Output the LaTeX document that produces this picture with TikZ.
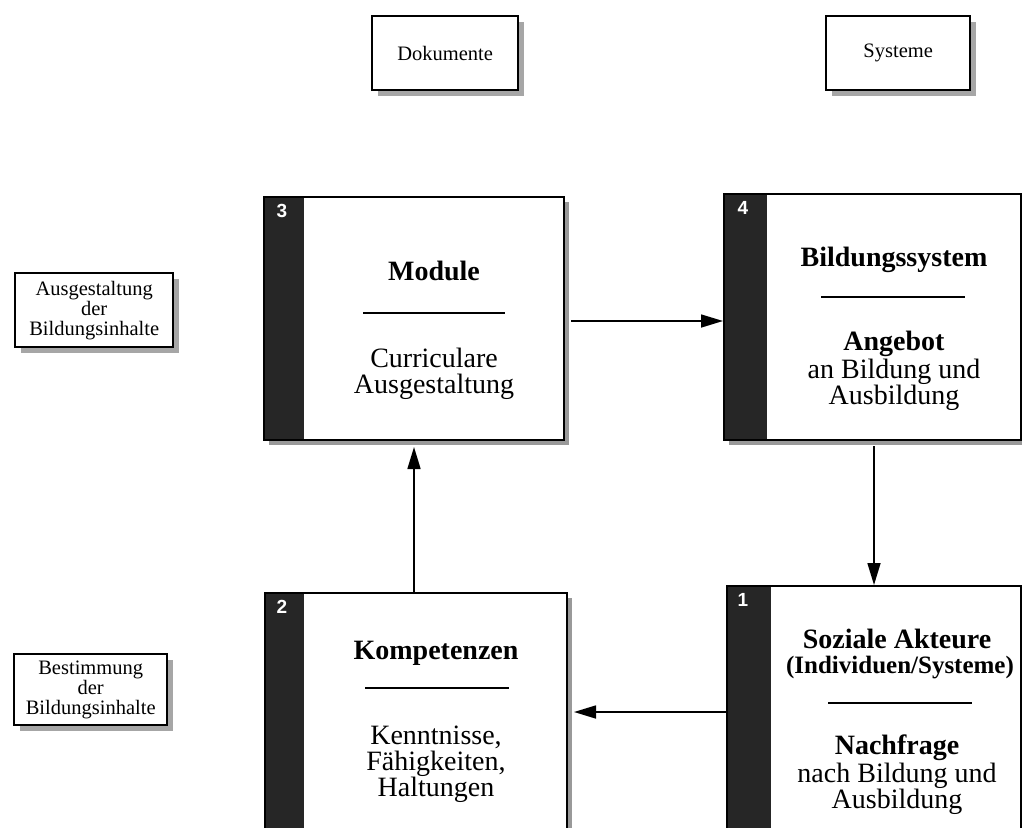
\documentclass[tikz,border=0pt]{standalone}
\usepackage{fontspec}
\setmainfont{Liberation Serif}
\newfontfamily\numfont{Liberation Sans}
\usetikzlibrary{arrows.meta,shadows,calc}
\begin{document}
\begin{tikzpicture}[x=1pt,y=-1pt,
  mainbox/.style={draw=black,line width=2pt,fill=white,inner sep=0pt,anchor=north west,
    drop shadow={shadow xshift=5pt,shadow yshift=-5pt,fill=black!40,opacity=1},
    path picture={\fill[black!85] (path picture bounding box.north west) rectangle ([xshift=#1]path picture bounding box.south west);}},
  smallbox/.style={draw=black,line width=2.4pt,fill=white,inner sep=0pt,anchor=north west,align=center,
    font=\fontsize{20.5}{20}\selectfont,
    drop shadow={shadow xshift=6pt,shadow yshift=-6pt,fill=black!35,opacity=1}},
  ttl/.style={font=\fontsize{28}{27}\selectfont\bfseries,anchor=base,inner sep=0pt},
  sttl/.style={font=\fontsize{25}{25}\selectfont\bfseries,anchor=base,inner sep=0pt},
  txt/.style={font=\fontsize{28}{27}\selectfont,anchor=base,inner sep=0pt},
  num/.style={font=\numfont\fontsize{19}{19}\selectfont\bfseries,text=white,inner sep=0pt},
  rule/.style={line width=1.2pt},
  arr/.style={line width=1.6pt,-{Triangle[length=22pt,width=13pt]}}
]
\clip (0,0) rectangle (1022,827);
\fill[white] (0,0) rectangle (1022,827);

% small label boxes
\node[smallbox,minimum width=146pt,minimum height=74pt] (dok) at (371,15) {Dokumente};
\node[smallbox,minimum width=144pt,minimum height=74pt] (sys) at (825,15) {Systeme};
\node[smallbox,minimum width=158pt,minimum height=74pt] (ausg) at (14,272) {Ausgestaltung\\der\\Bildungsinhalte};
\node[smallbox,minimum width=153pt,minimum height=71pt] (best) at (13,653) {Bestimmung\\der\\Bildungsinhalte};

% main boxes
\node[mainbox=40pt,minimum width=300pt,minimum height=243pt] (mod) at (263,196) {};
\node[mainbox=43pt,minimum width=297pt,minimum height=246pt] (bil) at (723,193) {};
\node[mainbox=39pt,minimum width=302pt,minimum height=240pt] (kom) at (264,592) {};
\node[mainbox=44pt,minimum width=294pt,minimum height=252pt] (soz) at (726,585) {};

% numbers
\node[num] (n3) at ([shift={(19,15)}]mod.north west) {3};
\node[num] (n4) at ([shift={(20,15)}]bil.north west) {4};
\node[num] (n2) at ([shift={(18,15)}]kom.north west) {2};
\node[num] (n1) at ([shift={(17,15)}]soz.north west) {1};

% box 3
\node[ttl] (t3a) at (434,280) {Module};
\draw[rule] (363,313) -- (505,313);
\node[txt] (t3b) at (434,367) {Curriculare};
\node[txt] (t3c) at (434,393) {Ausgestaltung};

% box 4
\node[ttl] (t4a) at (894,266) {Bildungssystem};
\draw[rule] (821,297) -- (965,297);
\node[ttl] (t4b) at (894,350) {Angebot};
\node[txt] (t4c) at (894,378) {an Bildung und};
\node[txt] (t4d) at (894,404) {Ausbildung};

% box 2
\node[ttl] (t2a) at (436,659) {Kompetenzen};
\draw[rule] (365,688) -- (509,688);
\node[txt] (t2b) at (436,744) {Kenntnisse,};
\node[txt] (t2c) at (436,770) {Fähigkeiten,};
\node[txt] (t2d) at (436,796) {Haltungen};

% box 1
\node[ttl] (t1a) at (897,648) {Soziale Akteure};
\node[sttl] (t1b) at (900,673) {(Individuen/Systeme)};
\draw[rule] (828,703) -- (972,703);
\node[ttl] (t1c) at (897,754) {Nachfrage};
\node[txt] (t1d) at (897,782) {nach Bildung und};
\node[txt] (t1e) at (897,808) {Ausbildung};

% connectors
\draw[arr] ($(mod.east)+(6,2.5)$) -- ($(bil.west)+(0,4)$);
\draw[arr] ($(soz.north |- bil.south)+(0,5)$) -- (soz.north);
\draw[arr] (soz.west) -- ($(kom.east |- soz.west)+(6,0)$);
\draw[arr] ($(mod.south -| kom.north)+(-2,592-439)$) -- ($(mod.south -| kom.north)+(-2,6)$);
\end{tikzpicture}
\end{document}
